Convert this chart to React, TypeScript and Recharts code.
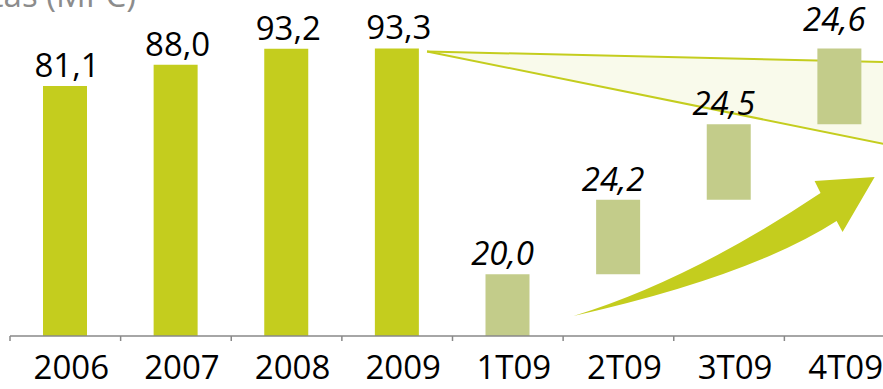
import React from 'react';
import { BarChart, Bar, XAxis, YAxis, LabelList, Customized } from 'recharts';

const categories = ['2006', '2007', '2008', '2009', '1T09', '2T09', '3T09', '4T09'];
const annualValues = [81.1, 88.0, 93.2, 93.3, 0, 0, 0, 0];
const quarterValues = [0, 0, 0, 0, 20.0, 24.2, 24.5, 24.6];
const titleText = 'Ventas (MPC)';
// wedge annotation in data units: [category position, value]
const wedgeApex = [3.77, 92.3];
const wedgeUpperEnd = [8, 88.8];
const wedgeLowerEnd = [8, 61.6];
// arrow annotation in data units: [category position, value]
const arrowPts = {
  tail: [5.094, 6.49],
  upperCtrl: [6.152, 18.2],
  upperEnd: [7.327, 46.38],
  barb1: [7.273, 50.28],
  tip: [7.816, 51.57],
  barb2: [7.526, 33.73],
  lowerStart: [7.472, 37.3],
  lowerCtrl: [6.695, 19.4],
};

const W = 896;
const H = 389;
const MARGIN = { top: 10, right: 1, left: 10, bottom: 0 };
const XAXIS_H = 53;
const PLOT_LEFT = MARGIN.left;
const PLOT_W = W - MARGIN.left - MARGIN.right;
const PLOT_TOP = MARGIN.top;
const PLOT_H = H - MARGIN.top - MARGIN.bottom - XAXIS_H;
const PLOT_BOTTOM = PLOT_TOP + PLOT_H;
const Y_MAX = 105.75;
const BAND = PLOT_W / categories.length;

const xOf = (u: number) => PLOT_LEFT + u * BAND;
const yOf = (v: number) => PLOT_BOTTOM - (v / Y_MAX) * PLOT_H;
const pt = (p: number[]) => `${xOf(p[0])},${yOf(p[1])}`;

const GREEN = '#c4cd1e';
const OLIVE = '#c3cc8a';
const FONT = '"Open Sans", "Noto Sans", sans-serif';

let cum = 0;
const data = categories.map((c, i) => {
  const base = cum;
  cum += quarterValues[i];
  return { name: c, annual: annualValues[i], base, quarter: quarterValues[i] };
});

const fmt = (v: number) => v.toFixed(1).replace('.', ',');

const Wedge = () => (
  <g>
    <polygon
      points={`${pt(wedgeApex)} ${pt(wedgeUpperEnd)} ${pt(wedgeLowerEnd)}`}
      fill="#f9faeb"
      stroke="none"
    />
    <line x1={xOf(wedgeApex[0])} y1={yOf(wedgeApex[1])} x2={xOf(wedgeUpperEnd[0])} y2={yOf(wedgeUpperEnd[1])} stroke={GREEN} strokeWidth={2} />
    <line x1={xOf(wedgeApex[0])} y1={yOf(wedgeApex[1])} x2={xOf(wedgeLowerEnd[0])} y2={yOf(wedgeLowerEnd[1])} stroke={GREEN} strokeWidth={2} />
    <text x={136} y={7} textAnchor="end" fill="#8c8c8c" fontSize={33} fontFamily={FONT}>
      {titleText}
    </text>
  </g>
);

const Arrow = () => {
  const a = arrowPts;
  const d = `M${pt(a.tail)} Q${pt(a.upperCtrl)} ${pt(a.upperEnd)} L${pt(a.barb1)} L${pt(a.tip)} L${pt(a.barb2)} L${pt(a.lowerStart)} Q${pt(a.lowerCtrl)} ${pt(a.tail)} Z`;
  return <path d={d} fill={GREEN} stroke="none" />;
};

const makeLabel = (italic: boolean) => (props: any) => {
  const { x, y, width, value } = props;
  if (!value) return null;
  const cx = Number(x) + Number(width) / 2;
  const idx = Math.round((cx - PLOT_LEFT) / BAND - 0.5);
  const extra = italic && idx === categories.length - 1 ? 8 : 0;
  return (
    <text
      x={cx + (italic ? -5 : 2)}
      y={Number(y) - 9 - extra}
      textAnchor="middle"
      fill="#000"
      fontSize={33}
      fontStyle={italic ? 'italic' : 'normal'}
      fontFamily={FONT}
    >
      {fmt(Number(value))}
    </text>
  );
};

const CatTick = (props: any) => {
  const { x, payload } = props;
  return (
    <g>
      <line x1={x - BAND / 2} y1={PLOT_BOTTOM} x2={x - BAND / 2} y2={PLOT_BOTTOM + 5} stroke="#888" strokeWidth={1.5} />
      <text x={x + 6} y={PLOT_BOTTOM + 43} textAnchor="middle" fill="#000" fontSize={33} fontFamily={FONT}>
        {payload.value}
      </text>
    </g>
  );
};

export default function App() {
  return (
    <div style={{ position: 'absolute', left: 0, top: 0, width: 883, height: 389, overflow: 'hidden', background: '#fff' }}>
      <BarChart width={W} height={H} data={data} margin={MARGIN} barSize={44}>
        <Customized component={<Wedge />} />
        <XAxis
          dataKey="name"
          height={XAXIS_H}
          interval={0}
          tickLine={false}
          axisLine={{ stroke: '#888', strokeWidth: 1.5 }}
          tick={<CatTick />}
        />
        <YAxis hide domain={[0, Y_MAX]} allowDataOverflow />
        <Bar dataKey="annual" stackId="s" fill={GREEN} isAnimationActive={false}>
          <LabelList dataKey="annual" content={makeLabel(false)} />
        </Bar>
        <Bar dataKey="base" stackId="s" fill="transparent" isAnimationActive={false} />
        <Bar dataKey="quarter" stackId="s" fill={OLIVE} isAnimationActive={false}>
          <LabelList dataKey="quarter" content={makeLabel(true)} />
        </Bar>
        <Customized component={<Arrow />} />
      </BarChart>
    </div>
  );
}
